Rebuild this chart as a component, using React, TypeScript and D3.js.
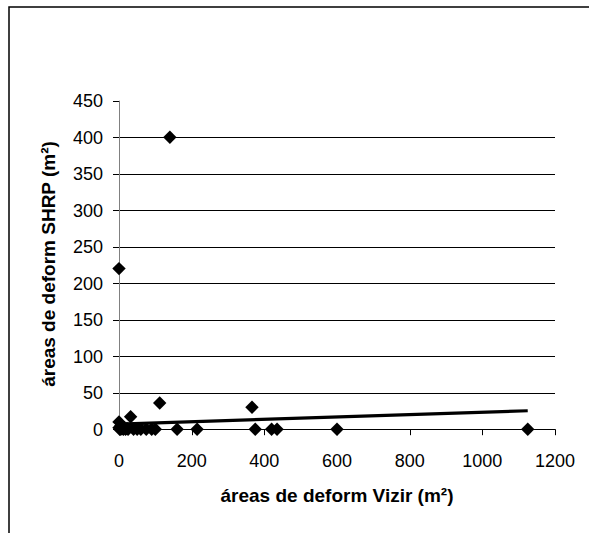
import * as d3 from 'd3'

// deformation areas (m²): Vizir vs SHRP
const vizir = [0, 0, 0, 2, 4, 5, 8, 10, 12, 15, 18, 22, 25, 32, 40, 50, 60, 75, 90, 100, 112, 140, 160, 215, 366, 375, 420, 435, 600, 1125]
const shrp = [220, 10, 2, 0, 4, 0, 3, 1, 0, 2, 0, 1, 0, 17, 0, 0, 0, 0, 0, 0, 36, 400, 0, 0, 30, 0, 0, 0, 0, 0]

// linear trend, start and end
const trendX = [0, 1125]
const trendY = [7, 25.3]

const xTicks = [0, 200, 400, 600, 800, 1000, 1200]
const yTicks = [0, 50, 100, 150, 200, 250, 300, 350, 400, 450]

const W = 589, H = 533
const FONT = 'Liberation Sans, Arial, sans-serif'

export default function App() {
  const x = d3.scaleLinear([0, 1200], [119, 555])
  const y = d3.scaleLinear([0, 450], [429.2, 100.7])

  const diamond = d3.symbol(d3.symbolSquare, 90)()
  const trend = d3.line<number>((d) => x(trendX[d]), (d) => y(trendY[d]))([0, 1])

  return (
    <svg width={W} height={H} style={{ position: 'absolute', left: 0, top: 0, background: '#fff' }}>
      <rect x={9} y={7} width={700} height={700} fill="none" stroke="#000" strokeWidth={1.5} />

      {/* gridlines */}
      {yTicks.filter((t) => t > 0 && t < 450).map((t) => (
        <line key={t} x1={x(0)} x2={x(1200)} y1={Math.round(y(t)) + 0.5} y2={Math.round(y(t)) + 0.5} stroke="#000" strokeWidth={1} />
      ))}

      {/* y axis */}
      <line x1={119.5} x2={119.5} y1={y(450)} y2={y(0)} stroke="#808080" strokeWidth={1} />
      {yTicks.map((t) => (
        <g key={t}>
          <line x1={113} x2={119} y1={Math.round(y(t)) + 0.5} y2={Math.round(y(t)) + 0.5} stroke="#000" strokeWidth={1} />
          <text x={103} y={y(t)} dy="0.35em" textAnchor="end" fontFamily={FONT} fontSize={18} fill="#000">{t}</text>
        </g>
      ))}

      {/* x axis */}
      <line x1={x(0)} x2={x(1200)} y1={Math.round(y(0)) + 0.5} y2={Math.round(y(0)) + 0.5} stroke="#000" strokeWidth={1} />
      {xTicks.map((t) => (
        <g key={t}>
          <line x1={Math.round(x(t)) + 0.5} x2={Math.round(x(t)) + 0.5} y1={y(0)} y2={y(0) + 6} stroke="#000" strokeWidth={1} />
          <text x={x(t)} y={461} dy="0.35em" textAnchor="middle" fontFamily={FONT} fontSize={18} fill="#000">{t}</text>
        </g>
      ))}

      {/* trend line */}
      <path d={trend ?? ''} fill="none" stroke="#000" strokeWidth={3.2} />

      {/* points */}
      {vizir.map((v, i) => (
        <path key={i} d={diamond ?? ''} transform={`translate(${x(v)},${y(shrp[i])}) rotate(45)`} fill="#000" />
      ))}

      <text x={337} y={495} dy="0.35em" textAnchor="middle" fontFamily={FONT} fontSize={19} fontWeight="bold" fill="#000">
        áreas de deform Vizir (m²)
      </text>
      <text transform={`translate(48,264) rotate(-90)`} dy="0.35em" textAnchor="middle" fontFamily={FONT} fontSize={19} fontWeight="bold" fill="#000">
        áreas de deform SHRP (m²)
      </text>
    </svg>
  )
}
